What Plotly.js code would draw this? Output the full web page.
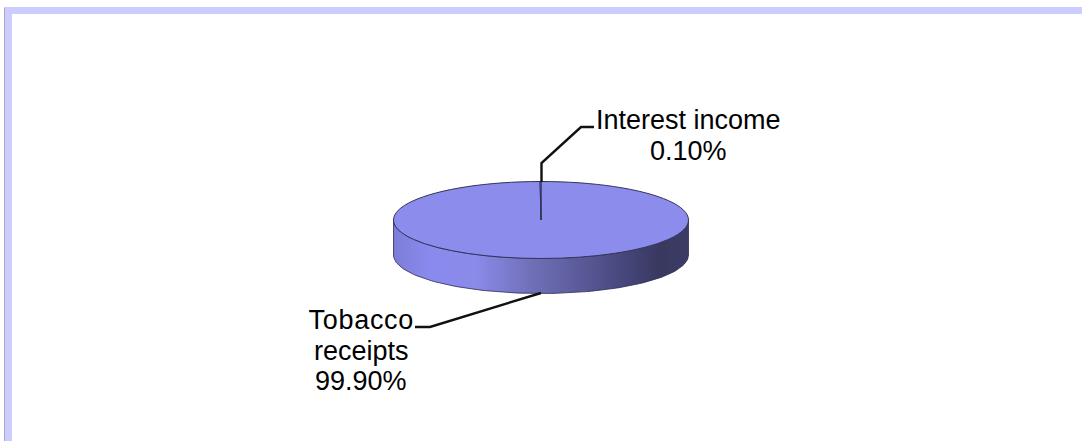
<!DOCTYPE html>
<html>
<head>
<meta charset="utf-8">
<script src="https://cdn.plot.ly/plotly-3.0.1.min.js"></script>
<style>html,body{margin:0;padding:0;background:#fff;overflow:hidden}#chart{width:1082px;height:441px}</style>
</head>
<body>
<div id="chart"></div>
<script>
var categories = ['Tobacco receipts', 'Interest income'];
var shares = [99.9, 0.1];
var tobaccoLines = ['Tobacco', 'receipts'];
var interestLines = ['Interest income'];

var W = 1082, H = 441;
var cx = 541, cy = 220, rx = 147.5, ry = 38.5, depth = 35;
var FONT = {family: '"Liberation Sans", Arial, sans-serif', size: 27, color: '#000'};

// side wall of the disc: drawn on a pixel-mapped cartesian pair of axes
var wallX = [], wallY = [], i, t;
for (i = 0; i <= 90; i++) { t = Math.PI * i / 90; wallX.push(cx + rx * Math.cos(t)); wallY.push(cy + depth + ry * Math.sin(t)); }
for (i = 90; i >= 0; i--) { t = Math.PI * i / 90; wallX.push(cx + rx * Math.cos(t)); wallY.push(cy + ry * Math.sin(t)); }
wallX.push(wallX[0]); wallY.push(wallY[0]);

var traces = [
  {
    type: 'scatter', mode: 'lines', x: wallX, y: wallY, fill: 'toself',
    line: {color: '#2b2b55', width: 0.8},
    fillgradient: {type: 'horizontal', colorscale: [
      [0, '#7c7cd8'], [0.12, '#8a8aee'], [0.28, '#8a8aea'], [0.45, '#7272bc'],
      [0.62, '#5c5c9c'], [0.8, '#444478'], [0.9, '#39395f'], [1, '#3b3b66']
    ]},
    hoverinfo: 'skip', showlegend: false
  },
  {
    type: 'pie', labels: categories, values: shares, sort: false, direction: 'clockwise', rotation: 0,
    textinfo: 'none', hoverinfo: 'skip', showlegend: false,
    marker: {colors: ['#8c8cec', '#8c8cec'], line: {color: '#33335a', width: 1}},
    domain: {x: [(cx - rx) / W, (cx + rx) / W], y: [(H - cy - rx) / H, (H - cy + rx) / H]}
  }
];

function label(text, x, y) {
  return {text: text, x: x, y: y, xref: 'x', yref: 'y', showarrow: false, xanchor: 'center', yanchor: 'middle', font: FONT};
}
function pct(v) { return v.toFixed(2) + '%'; }

var layout = {
  width: W, height: H, margin: {l: 0, r: 0, t: 0, b: 0, pad: 0},
  paper_bgcolor: '#fff', plot_bgcolor: 'rgba(0,0,0,0)', showlegend: false,
  xaxis: {range: [0, W], visible: false, fixedrange: true},
  yaxis: {range: [H, 0], visible: false, fixedrange: true},
  shapes: [
    {type: 'rect', xref: 'x', yref: 'y', x0: 4, x1: 12, y0: 7, y1: H, fillcolor: '#ccccff', line: {width: 0}, layer: 'above'},
    {type: 'rect', xref: 'x', yref: 'y', x0: 4, x1: W, y0: 7, y1: 14, fillcolor: '#ccccff', line: {width: 0}, layer: 'above'},
    {type: 'rect', xref: 'x', yref: 'y', x0: 4, x1: 5, y0: 8, y1: H, fillcolor: '#a9a9c4', line: {width: 0}, layer: 'above'},
    {type: 'path', xref: 'x', yref: 'y', path: 'M541.5,182 L541.5,163 L581,127 L594,127', line: {color: '#111', width: 2.4}, layer: 'above'},
    {type: 'path', xref: 'x', yref: 'y', path: 'M541,293 L430,327 L415,327', line: {color: '#111', width: 2.4}, layer: 'above'}
  ],
  annotations: [
    label(interestLines[0], 688, 120),
    label(pct(shares[1]), 688, 151),
    label(tobaccoLines[0], 361, 320),
    label(tobaccoLines[1], 361, 351),
    label(pct(shares[0]), 361, 381)
  ]
};

Plotly.newPlot('chart', traces, layout, {staticPlot: true, displayModeBar: false}).then(function () {
  // tilt the flat pie into the perspective of the disc
  var k = ry / rx;
  var pie = document.querySelector('#chart .pielayer');
  pie.setAttribute('transform', 'translate(0,' + (cy * (1 - k)) + ') scale(1,' + k + ')');
  pie.querySelectorAll('path').forEach(function (p) { p.style.vectorEffect = 'non-scaling-stroke'; });
  document.querySelectorAll('#chart .annotation-text').forEach(function (n) {
    if (n.textContent === tobaccoLines[0]) n.style.letterSpacing = '0.7px';
  });
});
</script>
</body>
</html>
